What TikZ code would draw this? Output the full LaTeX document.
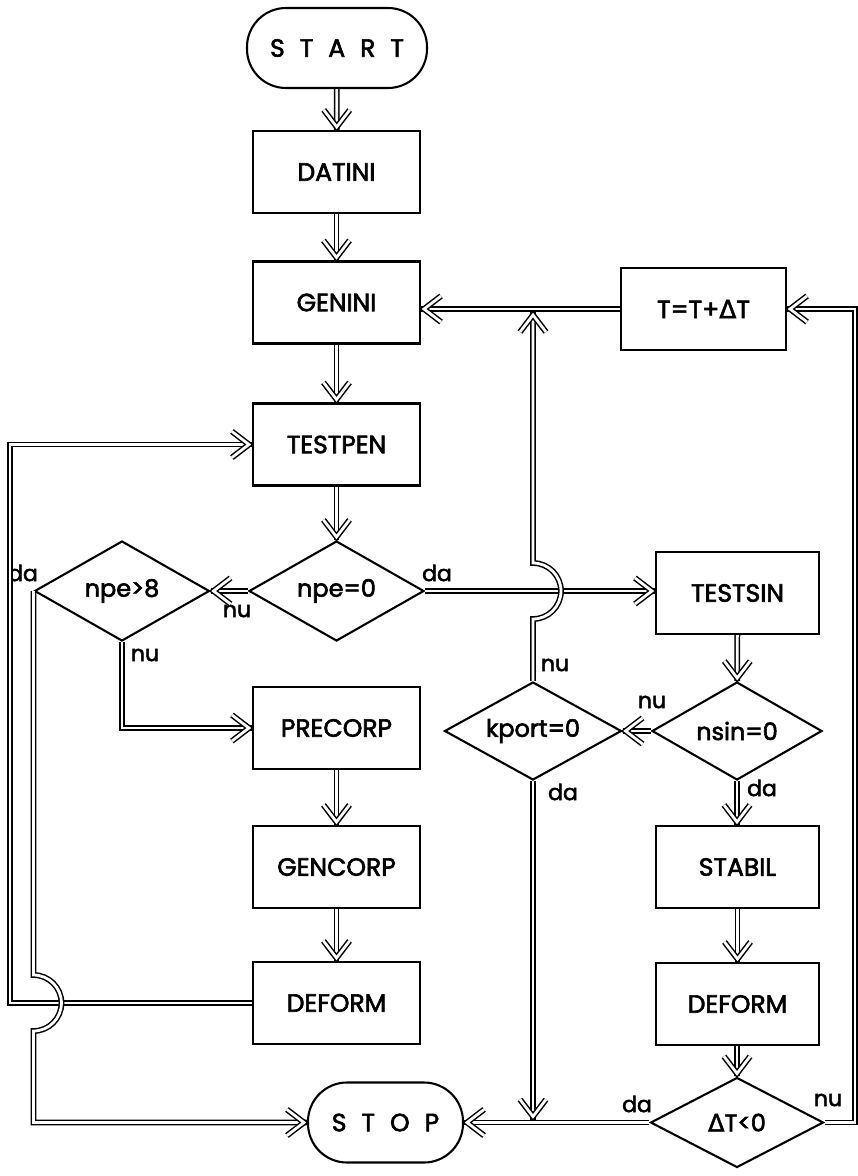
\documentclass[tikz,border=0pt]{standalone}
\usepackage{fontspec}
\setmainfont{Poppins}[UprightFeatures={FakeBold=2.5}]
\newfontfamily\symfont{DejaVu Sans}[UprightFeatures={FakeBold=2}]
\usetikzlibrary{shapes.geometric,decorations.markings,calc}

\newcommand\gap{\hspace{15pt}}
\newcommand\dlt{{\symfont Δ}}

\tikzset{
  outline/.style={draw, line width=2.1pt},
  box/.style={outline, rectangle, minimum width=167pt, minimum height=82pt,
    inner sep=0pt, font=\fontsize{25}{25}\selectfont},
  term/.style={outline, rectangle, rounded corners=39pt, minimum height=80pt,
    inner sep=0pt, font=\fontsize{25}{25}\selectfont},
  cond/.style={outline, diamond, aspect=1.74, minimum width=175pt,
    minimum height=100pt, inner sep=0pt, font=\fontsize{24}{24}\selectfont},
  lbl/.style={inner sep=0pt, font=\fontsize{22}{22}\selectfont},
  flowline/.style={double=white, double distance=2.8pt, line width=1.5pt,
    line join=miter},
  flow/.style={flowline},
  tip/.style={postaction={decorate, decoration={markings,
    mark=at position 1 with {\draw[flowline] (-20pt,13pt) -- (-3pt,0pt) -- (-20pt,-13pt);}}}},
}

\begin{document}
\begin{tikzpicture}[x=1pt,y=-1pt]
\useasboundingbox (0,0) rectangle (858,1176);

% main column
\node[term, minimum width=180pt] (start) at (337,48) {S\gap T\gap A\gap R\gap T};
\node[box] (datini) at (336.5,172) {DATINI};
\node[box] (genini) at (336.5,302.5) {GENINI};
\node[box] (testpen) at (336.5,444.5) {TESTPEN};
\node[cond] (npe0) at (336.5,591) {npe=0};
\node[cond] (npe8) at (122,591) {npe>8};
\node[box] (precorp) at (336.5,728) {PRECORP};
\node[box] (gencorp) at (336.5,867) {GENCORP};
\node[box] (deforma) at (336.5,1003) {DEFORM};
\node[term, minimum width=155pt] (stop) at (385.5,1122.5) {S\gap T\gap O\gap P};

% right column
\node[box, minimum width=165pt] (tinc) at (703.5,309) {T=T+\dlt T};
\node[box, minimum width=163pt] (testsin) at (737.5,593) {TESTSIN};
\node[cond, minimum width=170pt, minimum height=98pt] (nsin) at (737,731) {nsin=0};
\node[cond, minimum width=177pt, minimum height=98pt] (kport) at (533,731) {kport=0};
\node[box, minimum width=163pt] (stabil) at (737.5,867) {STABIL};
\node[box, minimum width=163pt] (deformb) at (737.5,1004) {DEFORM};
\node[cond, minimum width=173pt, minimum height=90pt] (dt) at (737,1122.5) {\dlt T<0};

% branch labels
\node[lbl] (l1) at (437,573) {da};
\node[lbl] (l2) at (237,611) {nu};
\node[lbl] (l3) at (23,573) {da};
\node[lbl] (l4) at (145,655) {nu};
\node[lbl] (l5) at (555,665) {nu};
\node[lbl] (l6) at (563,792) {da};
\node[lbl] (l7) at (652,702) {nu};
\node[lbl] (l8) at (762,788) {da};
\node[lbl] (l9) at (637,1104) {da};
\node[lbl] (l10) at (828,1100) {nu};

% crossing points and loop corners
\coordinate (jk) at (kport.north |- npe0.east);
\coordinate (jn) at (npe8.west |- deforma.west);
\coordinate (cl) at (10,0);
\coordinate (cr) at (855,0);

% straight flow
\draw[flow,tip] (start) -- (datini);
\draw[flow,tip] (datini) -- (genini);
\draw[flow,tip] (genini) -- (testpen);
\draw[flow,tip] (testpen) -- (npe0);
\draw[flow,tip] (npe0.west) -- (npe8.east);
\draw[flow,tip] (npe0.east) -- (npe0.east -| testsin.west);
\draw[flow,tip] (precorp) -- (gencorp);
\draw[flow,tip] (gencorp) -- (deforma);
\draw[flow,tip] (testsin) -- (nsin);
\draw[flow,tip] (nsin.west) -- (kport.east);
\draw[flow,tip] (nsin.south) -- (stabil.north -| nsin.south);
\draw[flow,tip] (stabil) -- (deformb);
\draw[flow,tip] (deformb.south -| dt.north) -- (dt.north);
\draw[flow,tip] (dt.west) -- (stop.east);
\draw[flow,tip] (tinc.west) -- (tinc.west -| genini.east);

% npe>8 no -> PRECORP
\draw[flow,tip] (npe8.south) -- (npe8.south |- precorp.west) -- (precorp.west);
% DEFORM -> TESTPEN loop
\draw[flow,tip] (deforma.west) -- (cl |- deforma.west) -- (cl |- testpen.west) -- (testpen.west);
% npe>8 yes -> STOP, hopping over the loop
\draw[flow,tip] (npe8.west) -- ($(jn)+(0,-28)$)
  arc[start angle=-90, end angle=90, radius=28]
  -- (npe8.west |- stop.west) -- (stop.west);
% kport=0 no -> back to GENINI, hopping over the TESTSIN line
\draw[flow,tip] (kport.north) -- ($(jk)+(0,28)$)
  arc[start angle=90, end angle=-90, radius=28]
  -- ($(kport.north |- tinc.west)+(0,3)$);
% kport=0 yes -> STOP line
\draw[flow,tip] (kport.south) -- ($(kport.south |- dt.west)+(0,-3)$);
% DeltaT<0 no -> T=T+DeltaT
\draw[flow,tip] (dt.east) -- (cr |- dt.east) -- (cr |- tinc.east) -- (tinc.east);
\end{tikzpicture}
\end{document}
